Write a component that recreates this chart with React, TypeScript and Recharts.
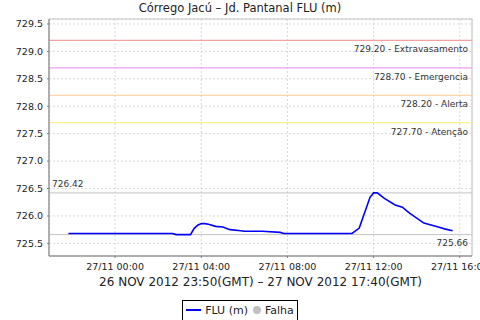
import {
  CartesianGrid,
  Line,
  LineChart,
  ReferenceArea,
  ReferenceLine,
  XAxis,
  YAxis,
} from 'recharts';

// minutos a partir de 27/11 00:00 (hora local)
const times = [
  -130, 160, 170, 210, 220, 230, 240, 250, 260, 280, 300, 320, 350, 360, 410, 460, 470,
  660, 680, 710, 720, 730, 750, 780, 800, 820, 860, 900, 920, 940,
];
const flu = [
  725.68, 725.68, 725.66, 725.66, 725.77, 725.83, 725.86, 725.86, 725.85, 725.81, 725.8, 725.75,
  725.73, 725.72, 725.72, 725.7, 725.68, 725.68, 725.78, 726.34, 726.42, 726.42, 726.32, 726.2,
  726.16, 726.05, 725.87, 725.8, 725.76, 725.73,
];

const xTicks = [0, 240, 480, 720, 960];
const xTickLabels = ['27/11 00:00', '27/11 04:00', '27/11 08:00', '27/11 12:00', '27/11 16:00'];
const yTicks = [725.5, 726.0, 726.5, 727.0, 727.5, 728.0, 728.5, 729.0, 729.5];

const thresholdValues = [729.2, 728.7, 728.2, 727.7];
const thresholdNames = ['Extravasamento', 'Emergencia', 'Alerta', 'Atenção'];
const thresholdColors = ['#f2a0a0', '#eca0f2', '#ffc890', '#fff08a'];

const maxValue = 726.42;
const minValue = 725.66;

const X_DOMAIN = [-184, 994];
const Y_DOMAIN = [725.27, 729.59];

const title = 'Córrego Jacú – Jd. Pantanal FLU (m)';
const subtitle = '26 NOV 2012 23:50(GMT) – 27 NOV 2012 17:40(GMT)';

const chartData = times.map((t, i) => ({ t, flu: flu[i] }));

const font = '"DejaVu Sans", sans-serif';

function rightLabel(text: string, dy: number) {
  return (props: any) => {
    const vb = props.viewBox || {};
    return (
      <text x={vb.x + vb.width - 4} y={vb.y + dy} textAnchor="end" fontSize={9} fill="#333" fontFamily={font}>
        {text}
      </text>
    );
  };
}

function leftLabel(text: string, dy: number) {
  return (props: any) => {
    const vb = props.viewBox || {};
    return (
      <text x={vb.x + 3} y={vb.y + dy} textAnchor="start" fontSize={9} fill="#333" fontFamily={font}>
        {text}
      </text>
    );
  };
}

function SubtitleLabel(props: any) {
  const vb = props.viewBox || {};
  return (
    <text x={vb.x + vb.width / 2} y={286} textAnchor="middle" fontSize={12} fill="#222" fontFamily={font}>
      {subtitle}
    </text>
  );
}

function LegendBox() {
  return (
    <div
      style={{
        border: '1px solid #000',
        display: 'inline-flex',
        alignItems: 'center',
        gap: 4,
        padding: '2px 3px',
        fontSize: 11,
        fontFamily: font,
        color: '#222',
        background: '#fff',
        lineHeight: '15px',
      }}
    >
      <span style={{ display: 'inline-block', width: 15, height: 2, background: '#0000ff' }} />
      <span>FLU (m)</span>
      <span
        style={{ display: 'inline-block', width: 8, height: 8, borderRadius: 4, background: '#c0c0c0', marginLeft: 1 }}
      />
      <span>Falha</span>
    </div>
  );
}

export default function App() {
  return (
    <div style={{ position: 'absolute', left: 0, top: 0, width: 480, height: 320, background: '#fff', fontFamily: font }}>
      <div
        style={{
          position: 'absolute',
          left: 0,
          top: 0,
          width: 480,
          textAlign: 'center',
          fontSize: 11.5,
          lineHeight: '16px',
          color: '#222',
        }}
      >
        {title}
      </div>
      <LineChart width={480} height={320} data={chartData} margin={{ top: 19, right: 8, bottom: 44, left: 0 }}>
        <ReferenceArea
          x1={X_DOMAIN[0]}
          x2={X_DOMAIN[1]}
          y1={Y_DOMAIN[0]}
          y2={Y_DOMAIN[1]}
          fill="none"
          stroke="#c4c4c4"
          ifOverflow="visible"
        />
        <CartesianGrid strokeDasharray="2 2" stroke="#d8d8d8" />
        <XAxis
          type="number"
          dataKey="t"
          domain={X_DOMAIN}
          ticks={xTicks}
          interval={0}
          allowDataOverflow
          height={20}
          tickSize={2}
          tickMargin={5}
          stroke="#808080"
          tick={{ fontSize: 9.5, fill: '#222', fontFamily: font }}
          tickFormatter={(v: number) => xTickLabels[xTicks.indexOf(v)] ?? ''}
          label={SubtitleLabel}
        />
        <YAxis
          type="number"
          domain={Y_DOMAIN}
          ticks={yTicks}
          interval={0}
          allowDataOverflow
          width={49}
          tickSize={2}
          tickMargin={4}
          stroke="#808080"
          tick={{ fontSize: 9.5, fill: '#222', fontFamily: font }}
          tickFormatter={(v: number) => v.toFixed(1)}
        />
        {thresholdValues.map((v, i) => (
          <ReferenceLine
            key={v}
            y={v}
            stroke={thresholdColors[i]}
            strokeWidth={1.2}
            label={rightLabel(`${v.toFixed(2)} - ${thresholdNames[i]}`, 12)}
          />
        ))}
        <ReferenceLine y={maxValue} stroke="#c4c4c4" label={leftLabel(maxValue.toFixed(2), -6)} />
        <ReferenceLine y={minValue} stroke="#c4c4c4" label={rightLabel(minValue.toFixed(2), 11)} />
        <Line
          type="linear"
          dataKey="flu"
          name="FLU (m)"
          stroke="#0000ff"
          strokeWidth={1.6}
          dot={false}
          isAnimationActive={false}
        />
      </LineChart>
      <div style={{ position: 'absolute', left: 0, top: 296, width: 480, textAlign: 'center' }}>
        <LegendBox />
      </div>
    </div>
  );
}
